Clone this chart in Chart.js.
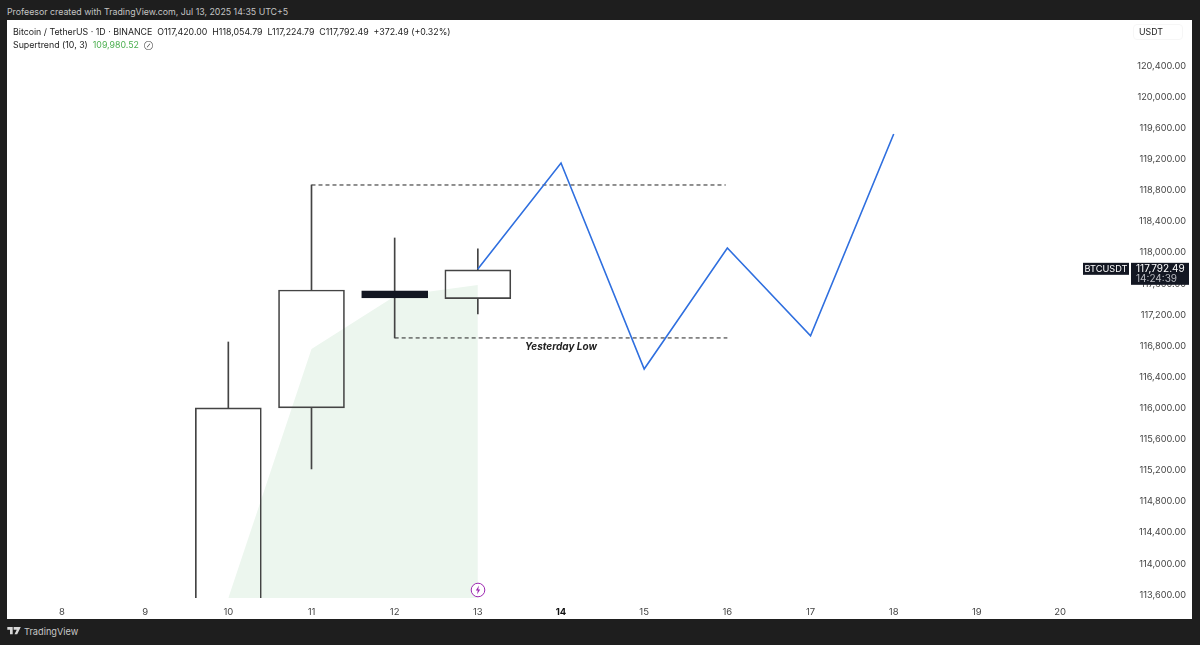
<!DOCTYPE html>
<html>
<head>
<meta charset="utf-8">
<title>BTCUSDT</title>
<script src="https://cdn.jsdelivr.net/npm/chart.js@4"></script>
<style>
  html, body { margin: 0; padding: 0; width: 1200px; height: 645px; background: #1e1e1e; overflow: hidden; font-family: Inter, sans-serif; }
  #panel { position: absolute; left: 7px; top: 20px; width: 1185px; height: 599px; background: #fff; }
  canvas { position: absolute; left: 0; top: 0; }
  .txt { position: absolute; white-space: pre; }
  #created { left: 7px; top: 6px; font-size: 8.8px; color: #c4c4c4; }
  #legend1 { left: 13px; top: 26px; font-size: 8.8px; color: #222; }
  #legend2 { left: 13px; top: 39px; font-size: 8.8px; color: #222; }
  #legend2 span { color: #4caf50; }
  #legend2 i { font-style: normal; color: #444; font-size: 6.5px; vertical-align: 0.5px; }
  #usdt { left: 1133px; top: 24px; width: 50px; height: 16px; line-height: 14px; padding-left: 5px; box-sizing: border-box; font-size: 8.8px; color: #222; border: 1px solid #f6f6f6; border-radius: 4px; }
  #brand { left: 24px; top: 626px; font-size: 9.2px; color: #c8c8c8; }
  svg { position: absolute; }
</style>
</head>
<body>
<div id="panel"><canvas id="chart" width="1185" height="599" style="width:1185px;height:599px"></canvas></div>
<div class="txt" id="created">Profeesor created with TradingView.com, Jul 13, 2025 14:35 UTC+5</div>
<div class="txt" id="legend1">Bitcoin / TetherUS · 1D · BINANCE  O117,420.00  H118,054.79  L117,224.79  C117,792.49  +372.49 (+0.32%)</div>
<div class="txt" id="legend2">Supertrend (10, 3)  <span>109,980.52</span>  <i>⊘</i></div>
<div class="txt" id="usdt">USDT</div>
<div class="txt" id="brand">TradingView</div>
<svg style="left:7px;top:627px" width="15" height="9" viewBox="0 0 16 10">
  <path d="M0 0h6v8H3V3H0zM7 0h8l-4 8H8l2.5-5H7z" fill="#d8d8d8"/>
</svg>
<svg style="left:470px;top:582px" width="16" height="16" viewBox="0 0 16 16">
  <circle cx="8" cy="8" r="6.8" fill="#fff" stroke="#9c27b0" stroke-width="1"/>
  <path d="M9 3.5L5.8 8.4h2L7 12.5l3.2-5h-2z" fill="#9c27b0"/>
</svg>
<script>
// candles, days of July 2025
const days = [10, 11, 12, 13];
const opens = [113000, 116004, 117510, 117410];
const closes = [116004, 117520, 117420, 117778];
const highs = [116852, 118870, 118189, 118048];
const lows = [113000, 115220, 116904, 117212];

// supertrend shading
const trendDays = [10, 11, 12, 13];
const trendValues = [113560, 116762, 117440, 117585];

// projected path
const pathDays = [13, 14, 15, 16, 17, 18];
const pathValues = [117790, 119153, 116505, 118060, 116930, 119526];

// dashed levels
const highLevelDays = [11, 15.98];
const highLevel = 118870;
const lowLevelDays = [12, 16];
const lowLevel = 116904;

const dayTicks = [8, 9, 10, 11, 12, 13, 14, 15, 16, 17, 18, 19, 20];
const priceTicks = [113600, 114000, 114400, 114800, 115200, 115600, 116000, 116400, 116800, 117200, 117600, 118000, 118400, 118800, 119200, 119600, 120000, 120400];
const lastPrice = 117792.49;
const lastPriceLabel = '117,792.49';
const countdownLabel = '14:24:39';

const bodies = days.map((d, i) => ({ x: d, y: [opens[i], closes[i]] }));
const upperWicks = days.map((d, i) => ({ x: d, y: [Math.max(opens[i], closes[i]), highs[i]] }));
const lowerWicks = days.map((d, i) => ({ x: d, y: [lows[i], Math.min(opens[i], closes[i])] }));
const toPoints = (xs, ys) => xs.map((x, i) => ({ x: x, y: ys[i] }));

const candleEdge = '#444';
const wick = { type: 'bar', grouped: false, barThickness: 1, backgroundColor: candleEdge, borderWidth: 0, order: 3 };
const isBoldDay = ctx => !!ctx.tick && ctx.tick.value === 14;

// labels near the plot edge must not shrink the plot
const noLabelPadding = axis => {
  axis.paddingLeft = 0;
  axis.paddingRight = 0;
  axis.paddingTop = 0;
  axis.paddingBottom = 0;
};

// annotation text and the price tags on the axis
const overlays = {
  id: 'overlays',
  afterDraw(chart) {
    const { ctx, scales: { x, y } } = chart;
    ctx.save();
    ctx.font = 'italic bold 10px Inter, sans-serif';
    ctx.fillStyle = '#222';
    ctx.textAlign = 'center';
    ctx.textBaseline = 'middle';
    ctx.fillText('Yesterday Low', x.getPixelForValue(14), y.getPixelForValue(lowLevel) + 9);

    const py = y.getPixelForValue(lastPrice);
    ctx.fillStyle = '#131722';
    ctx.fillRect(x.right - 47, py - 6, 46, 12);
    ctx.fillRect(x.right + 1, py - 6, 58, 22);
    ctx.font = '9.2px Inter, sans-serif';
    ctx.fillStyle = '#fff';
    ctx.fillText('BTCUSDT', x.right - 24, py);
    ctx.textAlign = 'left';
    ctx.font = '10px Inter, sans-serif';
    ctx.fillText(lastPriceLabel, x.right + 6, py);
    ctx.fillStyle = '#b8bac0';
    ctx.fillText(countdownLabel, x.right + 6, py + 10);
    ctx.restore();
  }
};

new Chart(document.getElementById('chart'), {
  type: 'bar',
  plugins: [overlays],
  data: {
    datasets: [
      { type: 'line', data: toPoints(trendDays, trendValues), borderWidth: 0, pointRadius: 0, fill: 'start', backgroundColor: '#ecf6ee', order: 6 },
      { ...wick, data: upperWicks },
      { ...wick, data: lowerWicks },
      {
        type: 'bar', grouped: false, data: bodies, barThickness: 66, borderWidth: 1, borderSkipped: false,
        borderColor: days.map((d, i) => (closes[i] < opens[i] ? '#131722' : candleEdge)),
        backgroundColor: days.map((d, i) => (closes[i] < opens[i] ? '#131722' : 'transparent')),
        order: 2
      },
      { type: 'line', data: toPoints(highLevelDays, highLevelDays.map(() => highLevel)), borderColor: '#222', borderWidth: 1, borderDash: [4, 3], pointRadius: 0, order: 4 },
      { type: 'line', data: toPoints(lowLevelDays, lowLevelDays.map(() => lowLevel)), borderColor: '#222', borderWidth: 1, borderDash: [4, 3], pointRadius: 0, order: 4 },
      { type: 'line', data: toPoints(pathDays, pathValues), borderColor: '#2f6fdf', borderWidth: 1.6, pointRadius: 0, tension: 0, order: 1 }
    ]
  },
  options: {
    responsive: false,
    animation: false,
    events: [],
    layout: { padding: { right: 6 } },
    plugins: { legend: { display: false }, tooltip: { enabled: false } },
    scales: {
      x: {
        type: 'linear',
        offset: false,
        min: 7.339,
        max: 20.841,
        afterBuildTicks(axis) { axis.ticks = dayTicks.map(v => ({ value: v })); },
        afterFit(axis) { axis.height = 21; noLabelPadding(axis); },
        grid: { display: false },
        border: { display: false },
        ticks: {
          autoSkip: false,
          maxRotation: 0,
          padding: 0,
          color: ctx => (isBoldDay(ctx) ? '#111' : '#444'),
          font: ctx => ({ family: 'Inter, sans-serif', size: 9.5, weight: isBoldDay(ctx) ? 'bold' : 'normal' }),
          callback: v => String(v)
        }
      },
      y: {
        position: 'right',
        min: 113561,
        max: 120991,
        afterBuildTicks(axis) { axis.ticks = priceTicks.map(v => ({ value: v })); },
        afterFit(axis) { axis.width = 56; noLabelPadding(axis); },
        grid: { display: false },
        border: { display: false },
        ticks: {
          autoSkip: false,
          crossAlign: 'far',
          padding: 0,
          color: '#444',
          font: { family: 'Inter, sans-serif', size: 9.2 },
          callback: v => v.toLocaleString('en-US', { minimumFractionDigits: 2 })
        }
      }
    }
  }
});
</script>
</body>
</html>
